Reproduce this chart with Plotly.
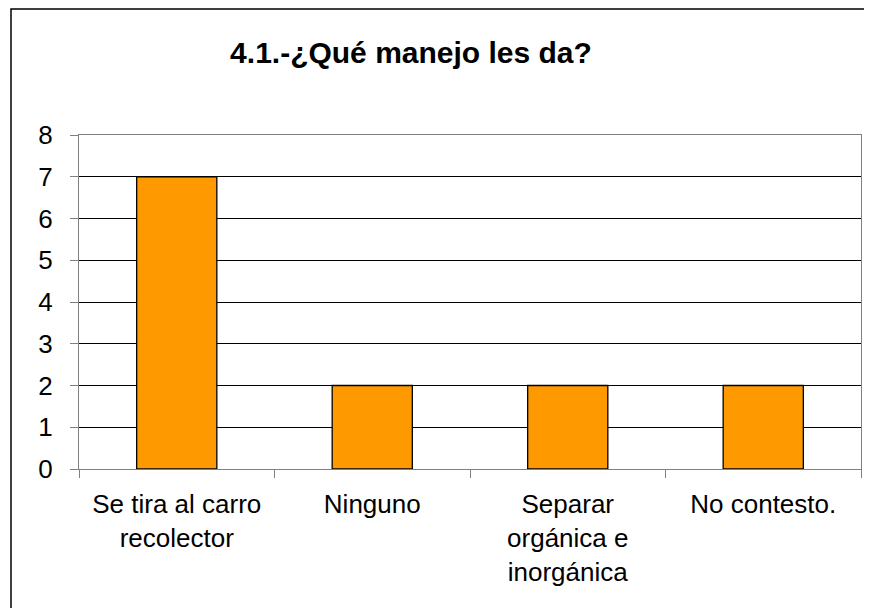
import plotly.graph_objects as go

categories = ["Se tira al carro<br>recolector", "Ninguno", "Separar<br>orgánica e<br>inorgánica", "No contesto."]
values = [7, 2, 2, 2]
title_text = "4.1.-¿Qué manejo les da?"
y_ticks = [0, 1, 2, 3, 4, 5, 6, 7, 8]

# page body has an 8px default margin; compensate
OFF = 8
W, H = 872 - OFF, 608 - OFF
L, R, T, B = 79 - OFF, 11, 135 - OFF, 139
pw, ph = W - L - R, H - T - B

fig = go.Figure(go.Bar(
    x=categories, y=values,
    marker=dict(color="#FF9900", line=dict(color="black", width=1.3)),
    width=0.41,
))

fig.update_layout(
    width=W, height=H,
    margin=dict(l=L, r=R, t=T, b=B),
    paper_bgcolor="white", plot_bgcolor="white",
    font=dict(family="Liberation Sans, Arial, sans-serif", size=26, color="black"),
    showlegend=False,
    title=dict(text="<b>" + title_text + "</b>", x=(411 - OFF) / W, xanchor="center",
               xref="container", y=1 - (52 - OFF) / H, yref="container", yanchor="middle",
               font=dict(size=30, color="black")),
    xaxis=dict(showline=True, linecolor="#808080", linewidth=1.3, mirror=True,
               ticks="outside", ticklen=8, tickcolor="#808080", tickson="boundaries",
               showgrid=False, ticklabelstandoff=12),
    yaxis=dict(range=[0, 8], tickvals=y_ticks, showline=True, linecolor="#808080",
               linewidth=1.3, mirror=True, ticks="outside", ticklen=8, tickcolor="#808080",
               showgrid=True, gridcolor="black", gridwidth=1, zeroline=False,
               ticklabelstandoff=12),
    shapes=[dict(type="rect", xref="paper", yref="paper",
                 x0=(11 - 79) / pw, x1=(W + 20 - L) / pw,
                 y0=-(H + 20 - T - ph) / ph, y1=1 + (135 - 9) / ph,
                 line=dict(color="black", width=1.5), fillcolor="rgba(0,0,0,0)")],
)

fig.write_html("out.html")
